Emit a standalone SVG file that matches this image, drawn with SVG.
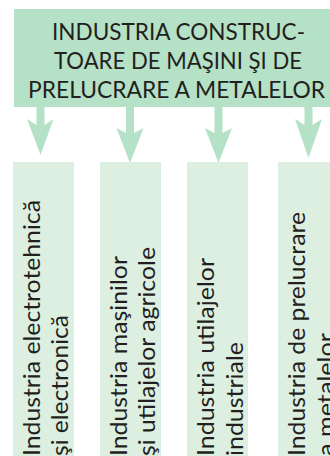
<svg xmlns="http://www.w3.org/2000/svg" width="330" height="456" viewBox="0 0 330 456">
<style>
.hdr{fill:#b5e1c6}
.arr{fill:#b5e1c6}
.sub{fill:#ddefe1}
text{font-family:Lato,"Open Sans","Liberation Sans",sans-serif;font-size:23px;fill:#231f20}
.ht{text-anchor:middle}
</style>
<rect width="330" height="456" fill="#ffffff"/>
<g id="top">
<rect class="hdr" x="14" y="9" width="330" height="98"/>
<text class="ht" x="178.5" y="39.5" textLength="253" lengthAdjust="spacingAndGlyphs">INDUSTRIA CONSTRUC-</text>
<text class="ht" x="178" y="69" textLength="248" lengthAdjust="spacingAndGlyphs">TOARE DE MAŞINI ŞI DE</text>
<text class="ht" x="176.5" y="97.5" textLength="297" lengthAdjust="spacingAndGlyphs">PRELUCRARE A METALELOR</text>
</g>
<g id="connectors">
<path class="arr" d="M36.5,106 H44.5 V125 L53.5,119 L40.5,155 L27,119 L36.5,125 Z"/>
<path class="arr" d="M126,106 H134 V133 L143.5,128 L130,163 L116.5,128 L126,133 Z"/>
<path class="arr" d="M214.5,106 H222.5 V133 L232,128 L218.5,163 L205,128 L214.5,133 Z"/>
<path class="arr" d="M304.5,106 H312.5 V125 L322,119 L308.5,158 L295,119 L304.5,125 Z"/>
</g>
<g id="box1">
<rect class="sub" x="13" y="162" width="61" height="300"/>
<text transform="translate(39.5,456) rotate(-90)" textLength="256" lengthAdjust="spacingAndGlyphs">Industria electrotehnică</text>
<text transform="translate(68,456) rotate(-90)" textLength="141" lengthAdjust="spacingAndGlyphs">şi electronică</text>
</g>
<g id="box2">
<rect class="sub" x="100" y="162" width="61" height="300"/>
<text transform="translate(126.5,456) rotate(-90)" textLength="200" lengthAdjust="spacingAndGlyphs">Industria maşinilor</text>
<text transform="translate(155,456) rotate(-90)" textLength="209" lengthAdjust="spacingAndGlyphs">şi utilajelor agricole</text>
</g>
<g id="box3">
<rect class="sub" x="187" y="162" width="61" height="300"/>
<text transform="translate(214,456) rotate(-90)" textLength="198" lengthAdjust="spacingAndGlyphs">Industria utilajelor</text>
<text transform="translate(242.5,456) rotate(-90)" textLength="114" lengthAdjust="spacingAndGlyphs">industriale</text>
</g>
<g id="box4">
<rect class="sub" x="278" y="162" width="61" height="300"/>
<text transform="translate(305,456) rotate(-90)" textLength="244" lengthAdjust="spacingAndGlyphs">Industria de prelucrare</text>
<text transform="translate(334,456) rotate(-90)" textLength="123" lengthAdjust="spacingAndGlyphs">a metalelor</text>
</g>
</svg>
